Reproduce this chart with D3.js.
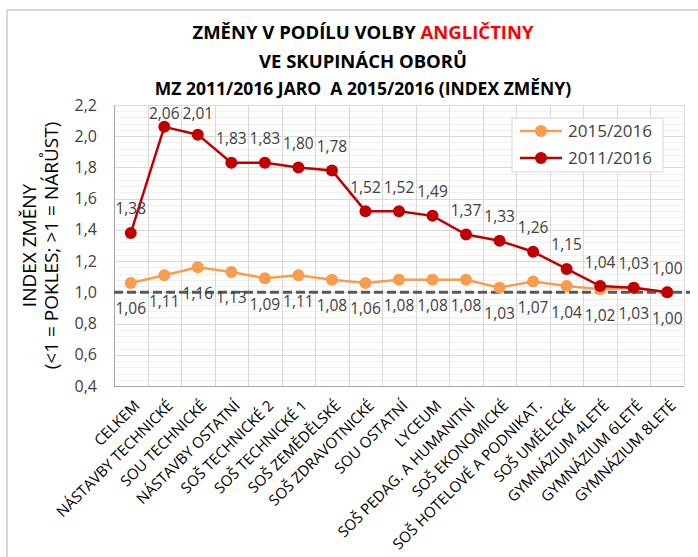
<!DOCTYPE html>
<html>
<head>
<meta charset="utf-8">
<script src="https://cdn.jsdelivr.net/npm/d3@7"></script>
<style>
  body { margin: 0; background: #fff; }
  text { font-family: "Open Sans", "Noto Sans", sans-serif; }
</style>
</head>
<body>
<svg width="698" height="557"></svg>
<script>
// categories (skupiny oborů)
var categories = ["CELKEM", "NÁSTAVBY TECHNICKÉ", "SOU TECHNICKÉ", "NÁSTAVBY OSTATNÍ",
    "SOŠ TECHNICKÉ 2", "SOŠ TECHNICKÉ 1", "SOŠ ZEMĚDĚLSKÉ", "SOŠ ZDRAVOTNICKÉ",
    "SOU OSTATNÍ", "LYCEUM", "SOŠ PEDAG. A HUMANITNÍ", "SOŠ EKONOMICKÉ",
    "SOŠ HOTELOVÉ A PODNIKAT.", "SOŠ UMĚLECKÉ", "GYMNÁZIUM 4LETÉ", "GYMNÁZIUM 6LETÉ",
    "GYMNÁZIUM 8LETÉ"];

// index změny
var values2011 = [1.38, 2.06, 2.01, 1.83, 1.83, 1.80, 1.78, 1.52, 1.52, 1.49, 1.37, 1.33, 1.26, 1.15, 1.04, 1.03, 1.00];
var values2015 = [1.06, 1.11, 1.16, 1.13, 1.09, 1.11, 1.08, 1.06, 1.08, 1.08, 1.08, 1.03, 1.07, 1.04, 1.02, 1.03, 1.00];

var yTicks = [0.4, 0.6, 0.8, 1.0, 1.2, 1.4, 1.6, 1.8, 2.0, 2.2];

var series = [
    { name: "2015/2016", values: values2015, colour: "#f89c4e", below: true },
    { name: "2011/2016", values: values2011, colour: "#c00000", below: false }
];

var svg = d3.select("svg");
var fmt = function (v) { return d3.format(".2f")(v).replace(".", ","); };

// chart frame
svg.append("rect")
    .attr("x", 7).attr("y", 10)
    .attr("width", 720).attr("height", 600)
    .attr("fill", "none")
    .attr("stroke", "#d9d9d9")
    .attr("stroke-width", 2);

// title
var title = svg.append("g").attr("font-weight", "bold").attr("text-anchor", "middle").attr("fill", "#000");
var t1 = title.append("text").attr("x", 363).attr("y", 39).attr("font-size", 18.5);
t1.append("tspan").text("ZMĚNY V PODÍLU VOLBY ");
t1.append("tspan").attr("fill", "#ff0000").text("ANGLIČTINY");
title.append("text").attr("x", 363).attr("y", 68).attr("font-size", 18.5).text("VE SKUPINÁCH OBORŮ");
title.append("text").attr("x", 363).attr("y", 95).attr("font-size", 17.5)
    .style("white-space", "pre")
    .text("MZ 2011/2016 JARO  A 2015/2016 (INDEX ZMĚNY)");

var plotLeft = 114, plotRight = 684, plotTop = 105, plotBottom = 386;

var x = d3.scaleBand().domain(categories).range([plotLeft, plotRight]);
var y = d3.scaleLinear().domain([0.4, 2.2]).range([plotBottom, plotTop]);
var cx = function (i) { return x(categories[i]) + x.bandwidth() / 2; };

// minor gridlines
var minor = d3.range(0.44, 2.2, 0.04).filter(function (v) { return Math.abs(v * 5 - Math.round(v * 5)) > 0.01; });
svg.append("g").selectAll("line").data(minor).enter().append("line")
    .attr("x1", plotLeft).attr("x2", plotRight)
    .attr("y1", function (d) { return Math.round(y(d)) + 0.5; })
    .attr("y2", function (d) { return Math.round(y(d)) + 0.5; })
    .attr("stroke", "#f0f0f0");

// major horizontal gridlines
svg.append("g").selectAll("line").data(yTicks.slice(1)).enter().append("line")
    .attr("x1", plotLeft).attr("x2", plotRight)
    .attr("y1", function (d) { return Math.round(y(d)) + 0.5; })
    .attr("y2", function (d) { return Math.round(y(d)) + 0.5; })
    .attr("stroke", "#d9d9d9");

// vertical gridlines between categories
svg.append("g").selectAll("line").data(categories).enter().append("line")
    .attr("x1", function (d) { return Math.round(x(d) + x.bandwidth()) + 0.5; })
    .attr("x2", function (d) { return Math.round(x(d) + x.bandwidth()) + 0.5; })
    .attr("y1", plotTop).attr("y2", plotBottom)
    .attr("stroke", "#d9d9d9");

// axes lines
svg.append("line").attr("x1", plotLeft + 0.5).attr("x2", plotLeft + 0.5).attr("y1", plotTop).attr("y2", plotBottom + 0.5)
    .attr("stroke", "#a6a6a6");
svg.append("line").attr("x1", plotLeft).attr("x2", plotRight).attr("y1", plotBottom + 0.5).attr("y2", plotBottom + 0.5)
    .attr("stroke", "#a6a6a6");

// y tick labels
svg.append("g").selectAll("text").data(yTicks).enter().append("text")
    .attr("x", 97)
    .attr("y", function (d) { return y(d); })
    .attr("dy", "0.35em")
    .attr("text-anchor", "end")
    .attr("font-size", 16)
    .attr("fill", "#404040")
    .text(function (d) { return d3.format(".1f")(d).replace(".", ","); });

// y axis title
var yt = svg.append("g").attr("transform", "translate(0," + ((plotTop + plotBottom) / 2) + ") rotate(-90)")
    .attr("text-anchor", "middle").attr("font-size", 19).attr("fill", "#000");
yt.append("text").attr("x", 0).attr("y", 36).text("INDEX ZMĚNY");
yt.append("text").attr("x", 0).attr("y", 58).text("(<1 = POKLES; >1 = NÁRŮST)");

// x labels
svg.append("g").selectAll("text").data(categories).enter().append("text")
    .attr("transform", function (d, i) { return "translate(" + (cx(i) + 6) + ",403) rotate(-45)"; })
    .attr("text-anchor", "end")
    .attr("dy", "0.35em")
    .attr("font-size", 15)
    .attr("fill", "#000")
    .text(function (d) { return d; });

// reference line at 1.0
svg.append("line")
    .attr("x1", plotLeft).attr("x2", plotRight + 6)
    .attr("y1", y(1)).attr("y2", y(1))
    .attr("stroke", "#595959")
    .attr("stroke-width", 3)
    .attr("stroke-dasharray", "9,4");

var line = d3.line()
    .x(function (d, i) { return cx(i); })
    .y(function (d) { return y(d); });

series.forEach(function (s) {
    var g = svg.append("g");
    g.append("path")
        .attr("d", line(s.values))
        .attr("fill", "none")
        .attr("stroke", s.colour)
        .attr("stroke-width", 2.5);
    g.selectAll("circle").data(s.values).enter().append("circle")
        .attr("cx", function (d, i) { return cx(i); })
        .attr("cy", function (d) { return y(d); })
        .attr("r", 6)
        .attr("fill", s.colour);
    g.selectAll("text").data(s.values).enter().append("text")
        .attr("x", function (d, i) { return cx(i); })
        .attr("y", function (d) {
            if (s.below) return y(d) + 26;
            return Math.max(y(d) - 24, plotTop + 9);
        })
        .attr("dy", "0.35em")
        .attr("text-anchor", "middle")
        .attr("font-size", 15.5)
        .attr("fill", "#404040")
        .text(fmt);
});

// legend
var legend = svg.append("g").attr("transform", "translate(512,118)");
legend.append("rect")
    .attr("width", 151).attr("height", 54)
    .attr("fill", "#fff")
    .attr("stroke", "#d9d9d9");
series.forEach(function (s, i) {
    var ly = 13 + i * 27;
    legend.append("line").attr("x1", 8).attr("x2", 50).attr("y1", ly).attr("y2", ly)
        .attr("stroke", s.colour).attr("stroke-width", 2.5);
    legend.append("circle").attr("cx", 29).attr("cy", ly).attr("r", 6).attr("fill", s.colour);
    legend.append("text").attr("x", 56).attr("y", ly).attr("dy", "0.35em")
        .attr("font-size", 17).attr("fill", "#404040").text(s.name);
});
</script>
</body>
</html>
